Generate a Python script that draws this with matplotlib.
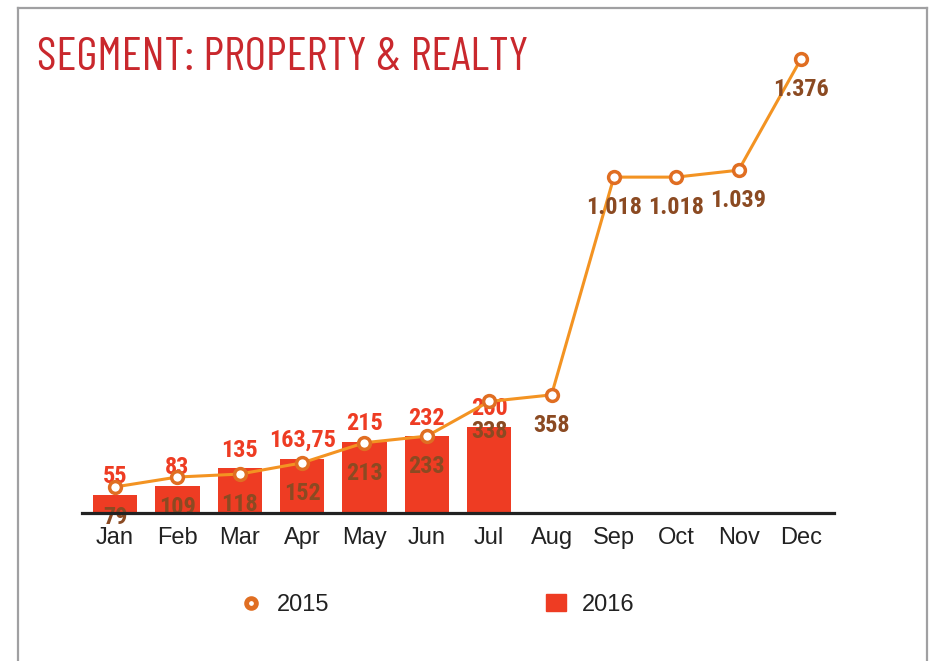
import matplotlib.pyplot as plt
from matplotlib.lines import Line2D
from matplotlib.patches import Patch
from matplotlib.font_manager import FontProperties, findfont
from matplotlib.textpath import TextPath

# data
months = ["Jan", "Feb", "Mar", "Apr", "May", "Jun", "Jul", "Aug", "Sep", "Oct", "Nov", "Dec"]
sales_2015 = [79, 109, 118, 152, 213, 233, 338, 358, 1018, 1018, 1039, 1376]
labels_2015 = ["79", "109", "118", "152", "213", "233", "338", "358", "1.018", "1.018", "1.039", "1.376"]
sales_2016 = [55, 83, 135, 163.75, 215, 232, 260]
labels_2016 = ["55", "83", "135", "163,75", "215", "232", "260"]
title = "SEGMENT: PROPERTY & REALTY"

bar_col = "#ee3c23"
line_col = "#f39322"
marker_col = "#e06e22"
brown = "#8b4a22"
title_col = "#c9282d"
label_font = ["Roboto Condensed", "DejaVu Sans"]

# condensed face for the title, sized so it spans 488 px like in the picture
title_fp = None
for fam in ["Barlow Condensed", "Fira Sans Extra Condensed", "Roboto Condensed"]:
    fp = FontProperties(family=fam, weight=400)
    try:
        findfont(fp, fallback_to_default=False)
    except Exception:
        continue
    title_fp = fp
    break
if title_fp is None:
    title_fp, title_size = FontProperties(family="DejaVu Sans"), 30
else:
    ext = TextPath((0, 0), title, size=100, prop=title_fp).get_extents()
    title_size = 100 * 488 * 0.72 / ext.width

fig = plt.figure(figsize=(9.3, 6.61), dpi=100)
W, H = 930, 661
ax = fig.add_axes([82 / W, (H - 513) / H, (834 - 82) / W, (513 - 40) / H])

x = list(range(len(months)))
ax.bar(x[:len(sales_2016)], sales_2016, width=0.71, color=bar_col, zorder=2)
ax.plot(x, sales_2015, color=line_col, lw=2.2, marker="o", ms=8.5, mew=2.5,
        mfc="white", mec=marker_col, zorder=4)

for i, v in enumerate(sales_2016):
    ax.annotate(labels_2016[i], (i, v), xytext=(0, 8.6), textcoords="offset points",
                ha="center", va="baseline", color=bar_col, fontsize=17.5,
                fontweight="bold", family=label_font, zorder=3)
for i, v in enumerate(sales_2015):
    ax.annotate(labels_2015[i], (i, v), xytext=(0, -26.6), textcoords="offset points",
                ha="center", va="baseline", color=brown, fontsize=17.5,
                fontweight="bold", family=label_font, zorder=5)

ax.set_xlim(-0.53, 11.53)
ax.set_ylim(0, 1376 * (513 - 40) / 454)
ax.set_xticks(x)
ax.set_xticklabels(months, fontsize=17, color="#222222", family="Liberation Sans")
ax.tick_params(axis="x", length=0, pad=10)
ax.set_yticks([])
for s in ["top", "left", "right"]:
    ax.spines[s].set_visible(False)
ax.spines["bottom"].set_linewidth(2.3)
ax.spines["bottom"].set_color("#222222")
ax.spines["bottom"].set_zorder(6)

handles = [Line2D([], [], ls="none", marker="o", ms=7, mew=3.5, mfc="white", mec=marker_col),
           Patch(color=bar_col)]
ax.legend(handles, ["2015", "2016"], loc="center left",
          bbox_to_anchor=(241 / W, 1 - 605 / H), bbox_transform=fig.transFigure,
          ncol=2, frameon=False, borderpad=0, borderaxespad=0,
          handlelength=0.85, handleheight=0.7, handletextpad=0.68, columnspacing=9.15,
          prop={"family": "Liberation Sans", "size": 17}, labelcolor="#222222")

fig.text(37 / W, 1 - 70 / H, title, color=title_col, fontproperties=title_fp,
         fontsize=title_size, va="baseline", ha="left")

# gray frame around the panel
fc = "#a0a0a2"
fig.add_artist(Line2D([18 / W, 18 / W], [0, 1 - 8 / H], color=fc, lw=1.6, transform=fig.transFigure))
fig.add_artist(Line2D([927 / W, 927 / W], [0, 1 - 8 / H], color=fc, lw=1.6, transform=fig.transFigure))
fig.add_artist(Line2D([18 / W, 927 / W], [1 - 8 / H, 1 - 8 / H], color=fc, lw=1.6, transform=fig.transFigure))

fig.savefig("out.png", dpi=100)
